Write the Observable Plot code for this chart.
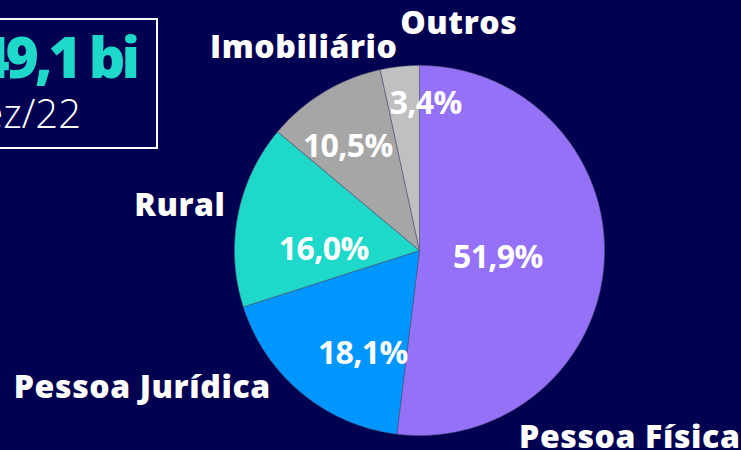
<!DOCTYPE html>
<html>
<head>
<meta charset="utf-8">
<script src="https://cdn.jsdelivr.net/npm/d3@7"></script>
<script src="https://cdn.jsdelivr.net/npm/@observablehq/plot@0.6"></script>
<style>
  html, body { margin: 0; padding: 0; background: #020050; overflow: hidden; }
  #chart { width: 741px; height: 450px; }
  svg { font-family: "Open Sans", sans-serif; }
</style>
</head>
<body>
<div id="chart"></div>
<script>
// ---- data ----
const categories = ["Pessoa Física", "Pessoa Jurídica", "Rural", "Imobiliário", "Outros"];
const shares = [51.9, 18.1, 16.0, 10.5, 3.4];
const shareLabels = ["51,9%", "18,1%", "16,0%", "10,5%", "3,4%"];
const colors = ["#9571F7", "#0096FF", "#1ED9CA", "#A6A6A6", "#C0C0C0"];
const totalLabel = "R$ 49,1 bi";
const dateLabel = "dez/22";

// ---- layout ----
const W = 741, H = 450, CX = 419, CY = 250, R = 185;
// label anchors in radius units from pie centre (dx right, dy up), baseline positions
const outerPos = {
  "Pessoa Física": [1.135, -1.065],
  "Pessoa Jurídica": [-1.50, -0.795],
  "Rural": [-1.297, 0.184],
  "Imobiliário": [-0.627, 1.043],
  "Outros": [0.211, 1.168]
};
const innerPos = {
  "Pessoa Física": [0.422, -0.092],
  "Pessoa Jurídica": [-0.308, -0.616],
  "Rural": [-0.519, -0.054],
  "Imobiliário": [-0.389, 0.503],
  "Outros": [0.032, 0.740]
};

// ---- slices built from the shares ----
const total = d3.sum(shares);
const pts = [];
let acc = 0;
categories.forEach((c, i) => {
  const a0 = acc / total * 2 * Math.PI;
  acc += shares[i];
  const a1 = acc / total * 2 * Math.PI;
  pts.push({cat: c, x: 0, y: 0});
  const n = Math.max(4, Math.ceil((a1 - a0) / 0.005));
  for (let k = 0; k <= n; k++) {
    const a = a0 + (a1 - a0) * k / n;
    pts.push({cat: c, x: Math.sin(a), y: Math.cos(a)});
  }
  pts.push({cat: c, x: 0, y: 0});
});

const inner = categories.map((c, i) => ({x: innerPos[c][0], y: innerPos[c][1], text: shareLabels[i]}));
const outer = categories.map(c => ({x: outerPos[c][0], y: outerPos[c][1], text: c}));

const plot = Plot.plot({
  width: W,
  height: H,
  margin: 0,
  style: {background: "transparent", overflow: "visible"},
  x: {domain: [-CX / R, (W - CX) / R], axis: null},
  y: {domain: [-(H - CY) / R, CY / R], axis: null},
  color: {domain: categories, range: colors},
  marks: [
    Plot.line(pts, {x: "x", y: "y", z: "cat", fill: "cat", stroke: "#55557a", strokeWidth: 0.6, curve: "linear"}),
    Plot.text(inner, {x: "x", y: "y", text: "text", fill: "white", fontSize: 32, fontWeight: 700, lineAnchor: "bottom", textAnchor: "middle", dx: 0.3}),
    Plot.text(outer, {x: "x", y: "y", text: "text", fill: "white", fontSize: 32, fontWeight: 800, lineAnchor: "bottom", textAnchor: "middle", dx: 0.3})
  ]
});

const svg = d3.select(plot);
// adjust tracking to approximate the reference's geometric font
const textGroups = svg.selectAll("g[aria-label='text']");
textGroups.filter((d, i) => i === 0).attr("letter-spacing", "-0.6px");
textGroups.filter((d, i) => i === 1).attr("letter-spacing", "0.6px");

// summary box annotation (top-left, partly cropped)
svg.append("rect")
  .attr("x", -120).attr("y", 19).attr("width", 277).attr("height", 129)
  .attr("fill", "none").attr("stroke", "white").attr("stroke-width", 2);
svg.append("text")
  .attr("x", 136).attr("y", 78).attr("text-anchor", "end")
  .attr("fill", "#1ED9CA").attr("font-size", 57).attr("font-weight", 800)
  .attr("letter-spacing", "-4px")
  .text(totalLabel);
svg.append("text")
  .attr("x", 81).attr("y", 128).attr("text-anchor", "end")
  .attr("fill", "white").attr("font-size", 40).attr("font-weight", 300)
  .text(dateLabel);

document.getElementById("chart").appendChild(plot);
</script>
</body>
</html>
